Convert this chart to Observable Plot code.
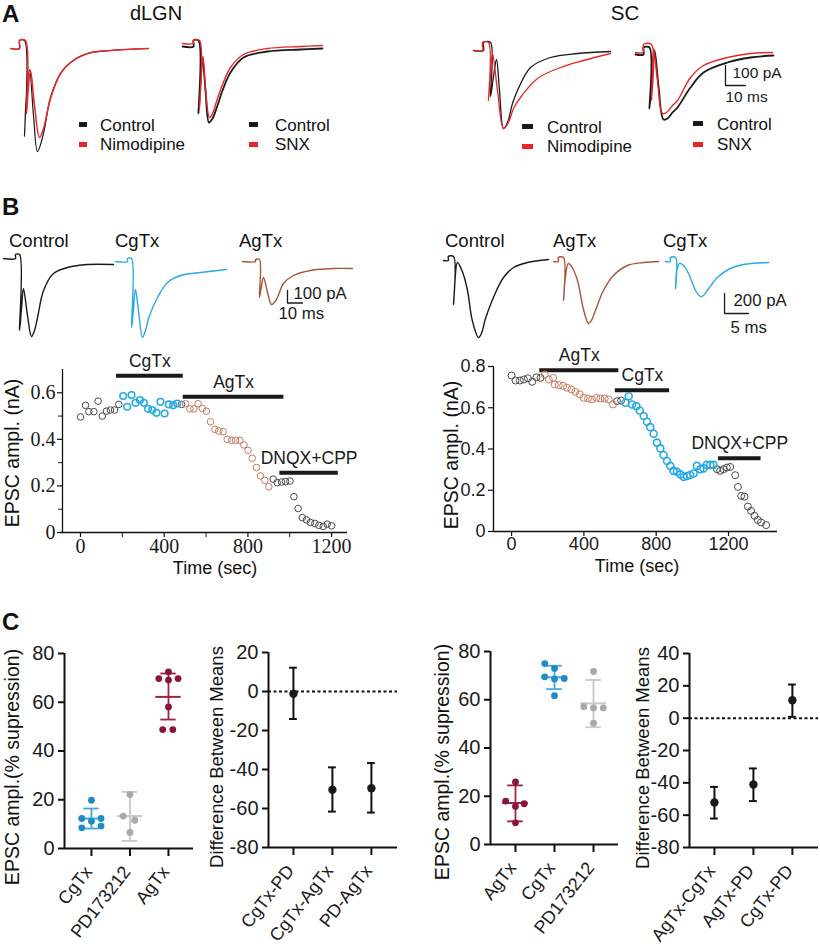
<!DOCTYPE html>
<html><head><meta charset="utf-8">
<script src="https://cdn.jsdelivr.net/npm/d3@7"></script>
<script src="https://cdn.jsdelivr.net/npm/@observablehq/plot@0.6"></script>
<style>
body{margin:0;background:#fff;}
#fig{position:relative;width:820px;height:950px;overflow:hidden;font-family:"Liberation Sans",Arial,sans-serif;color:#111;}
#fig svg{position:absolute;overflow:visible;}
.t{position:absolute;white-space:nowrap;line-height:1;}
.sw{position:absolute;}
</style></head><body><div id="fig"></div><script>
// ===================== DATA =====================
// Panel A traces: [time (ms), current (pA)]
const A_lgnNimo_control = [[0,0],[4.5,0],[4.5,40],[7,40],[7,-440],[7.75,-260],[9.5,-105],[11.5,-335],[13.5,-515],[16.5,-425],[20,-245],[25,-125],[30,-70],[38.5,-25],[50,-10],[69,0]];
const A_lgnNimo_drug    = [[0,0],[4.5,0],[4.5,40],[7.5,40],[8,-325],[8.75,-220],[10,-110],[12,-285],[14.5,-445],[16.5,-400],[20,-250],[25,-125],[30,-70],[38.5,-25],[50,-10],[69,0]];
const A_lgnSnx_control  = [[0,0],[5.5,0],[5.5,30],[8,30],[8,-335],[9,-180],[10,-55],[11.5,-220],[13.25,-380],[15,-360],[17.5,-295],[20,-220],[24,-130],[30.5,-55],[42.5,-25],[59,-15],[70,-10]];
const A_lgnSnx_drug     = [[0,15],[5.5,15],[5.5,30],[8.5,30],[8.5,-310],[9.3,-160],[10.25,-50],[11.5,-210],[13.5,-355],[15,-335],[17.5,-260],[20,-190],[24,-105],[30.5,-40],[42.5,-10],[59,0],[70,5]];
const A_scNimo_control  = [[0,0],[5,0],[5,40],[8.5,40],[8.5,-230],[10,-130],[11.5,-45],[13,-200],[15,-390],[17,-360],[19.5,-265],[22,-200],[28.5,-85],[38.5,-35],[52,-15],[68.5,-5]];
const A_scNimo_drug     = [[0,0],[4.5,0],[4.5,40],[7.5,40],[7.5,-250],[8.5,-120],[9.5,-15],[12,-200],[15,-390],[17.5,-360],[20,-290],[23.5,-235],[32,-140],[43.5,-85],[55,-50],[68.5,-15]];
const A_scSnx_control   = [[0,0],[4,0],[4,35],[7,35],[7,-270],[8,-130],[9.5,20],[11.5,-155],[14,-325],[16,-320],[18.5,-290],[21,-265],[27.5,-165],[34,-90],[46,-40],[57.5,-15],[69,-5]];
const A_scSnx_drug      = [[0,10],[4,10],[4,50],[8,50],[8,-230],[8.5,-100],[9,30],[11,-130],[13.5,-295],[15.5,-290],[18.5,-255],[21,-230],[27.5,-115],[34,-55],[46,-15],[57.5,5],[68.5,10]];
const A_scale = {t:45, i:-155, ms:10, pA:100};

// Panel B traces: [time (ms), current (pA)]
const B_lgn_control = [[0,0],[8,0],[8,32],[10.7,32],[10.7,-576],[12,-400],[13.3,-240],[16,-456],[18.7,-624],[20.7,-576],[22.7,-472],[26.7,-256],[33.3,-120],[42.7,-72],[56,-48],[73.3,-48]];
const B_lgn_cgtx    = [[0,0],[8,0],[8,24],[10.7,24],[10.7,-528],[12,-380],[13.3,-224],[15.7,-432],[18,-608],[20,-552],[22,-456],[28,-288],[34.7,-168],[43.3,-112],[56.7,-88],[74,-64]];
const B_lgn_agtx    = [[0,0],[8.7,0],[8.7,16],[11.3,16],[11.3,-288],[12.6,-200],[14,-128],[16.7,-248],[19.3,-344],[21.3,-328],[23.3,-288],[27.3,-176],[34,-112],[45.3,-72],[60.7,-56],[73.3,-56]];
const B_lgn_scale = {t:30, i:-332, ms:10, pA:100};
const B_sc_control  = [[0,0],[1,0],[1,40],[2.1,40],[2.1,-440],[2.4,-200],[2.9,-20],[4,-120],[5,-300],[6,-600],[7.3,-770],[7.9,-730],[8.75,-580],[10.4,-370],[12.5,-170],[14.6,-70],[17.5,-20],[21.9,10]];
const B_sc_agtx     = [[0,0],[1,0],[1,40],[2.1,40],[2.1,-390],[2.4,-190],[3.1,-20],[4,-70],[5,-190],[6.3,-490],[7.3,-620],[7.9,-590],[8.75,-490],[10.4,-290],[12.5,-140],[15.4,-40],[18.75,-10],[21.9,0]];
const B_sc_cgtx     = [[0,0],[1,0],[1,40],[2.1,40],[2.1,-270],[2.3,-110],[2.9,-20],[3.75,-40],[4.8,-120],[6.25,-290],[7.3,-350],[7.9,-340],[9,-270],[10.8,-160],[13.5,-70],[16.25,-30],[21.5,-10]];
const B_sc_scale = {t:12.3, i:-520, ms:5, pA:200};

// Panel B time courses: [time (s), EPSC amplitude (nA)]
const tcL_control = [[0,0.496],[24,0.546],[40,0.519],[64,0.519],[84,0.564],[104,0.5],[124,0.521],[143,0.526],[163,0.526],[183,0.55],[483,0.55],[921,0.229],[940,0.214],[961,0.217],[980,0.219],[1001,0.221],[1020,0.154],[1040,0.103],[1060,0.064],[1080,0.054],[1099,0.043],[1120,0.039],[1139,0.031],[1160,0.026],[1179,0.036],[1200,0.029]];
const tcL_cgtx = [[204,0.586],[223,0.54],[244,0.59],[263,0.557],[284,0.569],[303,0.557],[323,0.531],[343,0.526],[363,0.514],[382,0.561],[402,0.511],[422,0.55],[443,0.546],[462,0.554]];
const tcL_agtx = [[502,0.553],[523,0.531],[542,0.531],[562,0.553],[582,0.533],[602,0.521],[621,0.476],[642,0.443],[661,0.436],[682,0.433],[701,0.4],[722,0.396],[741,0.396],[762,0.396],[781,0.376],[801,0.353],[821,0.319],[841,0.279],[860,0.243],[881,0.224],[900,0.196]];
const tcL_bars = [{name:"CgTx",start:172,end:491,level:0.673},{name:"AgTx",start:491,end:972,level:0.583},{name:"DNQX+CPP",start:953,end:1232,level:0.257}];
const tcL_xticks = [0,400,800,1200], tcL_xminor = [200,600,1000];
const tcL_yticks = [0,0.2,0.4,0.6], tcL_yminor = [0.1,0.3,0.5];
const tcR_control = [[0,0.756],[22,0.732],[46,0.732],[68,0.737],[90,0.743],[114,0.726],[138,0.748],[160,0.745],[583,0.632],[606,0.635],[1136,0.302],[1154,0.294],[1172,0.302],[1191,0.31],[1209,0.313],[1237,0.273],[1252,0.216],[1270,0.173],[1288,0.169],[1307,0.121],[1325,0.1],[1344,0.076],[1362,0.056],[1380,0.044],[1408,0.031]];
const tcR_agtx = [[184,0.761],[206,0.737],[230,0.745],[239,0.713],[261,0.71],[285,0.706],[307,0.697],[331,0.689],[353,0.677],[377,0.665],[399,0.648],[423,0.645],[445,0.64],[469,0.648],[491,0.645],[515,0.645],[537,0.64],[561,0.616]];
const tcR_cgtx = [[630,0.624],[648,0.656],[666,0.616],[690,0.608],[709,0.587],[731,0.56],[749,0.532],[767,0.506],[786,0.474],[804,0.431],[823,0.403],[841,0.371],[860,0.342],[878,0.318],[896,0.294],[915,0.29],[933,0.277],[952,0.265],[970,0.269],[988,0.274],[1007,0.281],[1025,0.318],[1044,0.302],[1062,0.306],[1080,0.323],[1099,0.323],[1117,0.323]];
const tcR_bars = [{name:"AgTx",start:156,end:593,level:0.782},{name:"CgTx",start:574,end:874,level:0.685},{name:"DNQX+CPP",start:1145,end:1380,level:0.355}];
const tcR_xticks = [0,400,800,1200], tcR_yticks = [0,0.2,0.4,0.6,0.8];

// Panel C: % suppression per cell, mean and SD limits
const c1Cats = ["CgTx","PD173212","AgTx"];
const c1Vals = [[19.8,12.3,12.3,11.2,8.5,9.2],[22.2,13.3,11.6,6.6],[72.5,69.7,69.1,69.7,58.1,48.8,48.8]];
const c1Jit  = [[0,-1,1,0,-1,1],[0,-0.7,0.5,0],[0,-1,0,1,0,-0.6,0.45]];
const c1Mean = [12.3,13.3,62.2], c1Lo = [8.2,3.1,52.9], c1Hi = [16.4,23.2,71.8];
const c2Cats = ["CgTx-PD","CgTx-AgTx","PD-AgTx"];
const c2Mean = [-1.2,-50.4,-49.6], c2Lo = [-14.1,-61.6,-62.1], c2Hi = [12.2,-38.9,-36.7];
const c3Cats = ["AgTx","CgTx","PD173212"];
const c3Vals = [[25.9,18.0,16.9,15.8,9.0],[75.0,73.0,69.5,68.6,68.8,61.7],[71.7,57.1,56.6,56.6,50.3]];
const c3Jit  = [[0,-1,0.9,0,0],[-1,0,-1,0,1,0],[0,-1,0,1,0]];
const c3Mean = [17.2,69.3,58.5], c3Lo = [9.6,64.4,48.6], c3Hi = [24.5,74.1,68.2];
const c4Cats = ["AgTx-CgTx","AgTx-PD","CgTx-PD"];
const c4Mean = [-52.2,-41.0,11.1], c4Lo = [-62.1,-51.3,0.8], c4Hi = [-42.5,-31.1,20.8];
const cPctTicks = [0,20,40,60,80], c2Ticks = [20,0,-20,-40,-60,-80], c4Ticks = [40,20,0,-20,-40,-60,-80];

// colours
const RED = "#e8262a", BLK = "#1a1a1a", CYAN = "#27aae1", BROWN = "#a6553a";
const DOT = {CgTx:"#1f8cc8", PD173212:"#a9a9a9", AgTx:"#8a1538"};
const BAR = {CgTx:"#45a8dc", PD173212:"#c8c8c8", AgTx:"#a2223f"};
const SANS = "Liberation Sans, Arial, sans-serif", SERIF = "Liberation Serif, Times New Roman, serif";

// ===================== HELPERS =====================
const fig = document.getElementById("fig");
function place(node, left, top){ node.style.left = left+"px"; node.style.top = top+"px"; fig.appendChild(node); }
function label(text, x, y, o = {}) {
  const d = document.createElement("div"); d.className = "t"; d.textContent = text;
  d.style.left = x+"px"; d.style.top = y+"px"; d.style.fontSize = (o.size||17)+"px";
  if (o.bold) d.style.fontWeight = "bold";
  if (o.font) d.style.fontFamily = o.font;
  let tf = `translate(${o.center ? "-50%" : "0"},-50%)`;
  if (o.rotate) tf += ` rotate(${o.rotate}deg)`;
  d.style.transform = tf; fig.appendChild(d);
}
function swatch(x, y, w, h, color) {
  const d = document.createElement("div"); d.className = "sw";
  Object.assign(d.style, {left:x+"px", top:y+"px", width:w+"px", height:h+"px", background:color});
  fig.appendChild(d);
}
function scaleBar(sb, o) {
  return [
    Plot.line([[sb.t, sb.i+sb.pA],[sb.t, sb.i],[sb.t+sb.ms, sb.i]], {x:d=>d[0], y:d=>d[1], stroke:BLK, strokeWidth:1.3}),
    Plot.text([sb], {x:d=>d.t, y:d=>d.i+d.pA/2, text:d=>d.pA+" pA", textAnchor:"start", dx:o.vdx, dy:o.vdy, fontSize:o.fs, fill:BLK}),
    Plot.text([sb], {x:d=>d.t, y:d=>d.i, text:d=>d.ms+" ms", textAnchor:"start", dx:o.hdx, dy:o.hdy, fontSize:o.fs, fill:BLK})
  ];
}
function tracePlot(series, g, extra = []) {
  const {left, top, width, height, x0, y0, sx, sy} = g;
  const marks = series.map(s => Plot.line(s.data, {x:d=>d[0], y:d=>d[1], stroke:s.color, strokeWidth:s.w||1.4, curve:"catmull-rom"}));
  const svg = Plot.plot({
    width, height, margin:0,
    x:{domain:[(left-x0)/sx, (left+width-x0)/sx], axis:null},
    y:{domain:[(y0-top-height)/sy, (y0-top)/sy], axis:null},
    style:{background:"transparent", overflow:"visible", fontFamily:SANS},
    marks:[...marks, ...extra]
  });
  place(svg, left, top);
}
// tick labels drawn as text marks (full control of font)
function xLabels(ticks, y0, o) {
  return Plot.text(ticks, {x:d=>d, y:()=>y0, text:o.fmt||(d=>String(d)), dy:o.dy, lineAnchor:"top", fontSize:o.fs, fontFamily:o.ff||SANS, fill:BLK});
}
function yLabels(ticks, x0, o) {
  return Plot.text(ticks, {x:()=>x0, y:d=>d, text:o.fmt||(d=>String(d)), dx:o.dx, textAnchor:"end", fontSize:o.fs, fontFamily:o.ff||SANS, fill:BLK});
}
const noLab = () => "";

// ===================== PANEL A =====================
label("A", 2, 14, {size:24, bold:true});
label("dLGN", 156, 13, {size:20, center:true});
label("SC", 625, 13, {size:20.5, center:true});
const gA = {sx:2, sy:0.2};
tracePlot([{data:A_lgnNimo_control,color:BLK,w:1.2},{data:A_lgnNimo_drug,color:RED,w:1.5}], {...gA, left:5, top:30, width:150, height:130, x0:10, y0:48});
tracePlot([{data:A_lgnSnx_control,color:BLK,w:1.8},{data:A_lgnSnx_drug,color:RED,w:1.4}], {...gA, left:175, top:30, width:155, height:100, x0:182, y0:46});
tracePlot([{data:A_scNimo_control,color:BLK,w:1.3},{data:A_scNimo_drug,color:RED,w:1.3}], {...gA, left:465, top:30, width:155, height:110, x0:473, y0:50});
tracePlot([{data:A_scSnx_control,color:BLK,w:1.8},{data:A_scSnx_drug,color:RED,w:1.4}], {...gA, left:628, top:30, width:185, height:85, x0:635, y0:54},
  scaleBar(A_scale, {vdx:7, vdy:-2, hdx:0, hdy:12, fs:15.5}));
// legends
[[79,100,"Nimodipine",125,144,8],[249,275,"SNX",125,144,9],[522,547,"Nimodipine",127,146,11],[693,717,"SNX",124,144,10]].forEach(([sx,tx,name,c1,c2,w]) => {
  swatch(sx, c1-3, w, 5, BLK); label("Control", tx, c1, {size:17});
  swatch(sx, c2-2, w, 5, RED); label(name, tx, c2, {size:17});
});

// ===================== PANEL B traces =====================
label("B", 2, 207, {size:24, bold:true});
[["Control",9],["CgTx",115],["AgTx",239],["Control",445],["AgTx",553],["CgTx",663]].forEach(([n,x]) => label(n, x, 241, {size:18.5}));
const gBL = {sx:1.5, sy:0.125};
tracePlot([{data:B_lgn_control,color:BLK}], {...gBL, left:0, top:245, width:115, height:100, x0:3, y0:258});
tracePlot([{data:B_lgn_cgtx,color:CYAN}], {...gBL, left:110, top:245, width:120, height:100, x0:115, y0:261});
tracePlot([{data:B_lgn_agtx,color:BROWN}], {...gBL, left:238, top:245, width:150, height:85, x0:242, y0:261},
  scaleBar(B_lgn_scale, {vdx:6, vdy:-3, hdx:-9, hdy:10.5, fs:16.8}));
const gBR = {sx:4.8, sy:0.1};
tracePlot([{data:B_sc_control,color:BLK}], {...gBR, left:438, top:245, width:115, height:100, x0:443, y0:260});
tracePlot([{data:B_sc_agtx,color:BROWN}], {...gBR, left:548, top:245, width:115, height:100, x0:553, y0:261});
tracePlot([{data:B_sc_cgtx,color:CYAN}], {...gBR, left:660, top:245, width:150, height:95, x0:665, y0:261},
  scaleBar(B_sc_scale, {vdx:9, vdy:-3, hdx:6, hdy:14, fs:16.8}));

// ===================== PANEL B time courses =====================
function dots(data, color, sw, r) {
  return Plot.dot(data, {x:d=>d[0], y:d=>d[1], r, stroke:color, strokeWidth:sw, fill:"none"});
}
function drugBars(bars, fs) {
  return [
    Plot.ruleY(bars, {x1:"start", x2:"end", y:"level", stroke:BLK, strokeWidth:4}),
    Plot.text(bars, {x:d=>(d.start+d.end)/2, y:"level", text:"name", dy:-14.5, fontSize:fs, fontFamily:SANS, fill:BLK})
  ];
}
const dec1 = d => d===0 ? "0" : d.toFixed(1);
{
  const xd = [-86, 1276], yd = [0, 0.70];
  const svg = Plot.plot({
    width:410, height:250, marginLeft:62, marginRight:63, marginTop:29, marginBottom:58,
    x:{domain:xd}, y:{domain:yd},
    style:{background:"transparent", overflow:"visible", fontFamily:SANS},
    marks:[
      Plot.ruleX([xd[0]], {y1:0, y2:yd[1], strokeWidth:1.3}),
      Plot.ruleY([0], {x1:-96, x2:xd[1], strokeWidth:1.3}),
      Plot.axisY({ticks:tcL_yticks, tickSize:5, strokeWidth:1.2, tickFormat:noLab, label:null}),
      Plot.axisY({ticks:tcL_yminor, tickSize:4, strokeWidth:1, tickFormat:noLab, label:null}),
      Plot.axisX({ticks:tcL_xticks, tickSize:5, strokeWidth:1.2, tickFormat:noLab, label:null}),
      Plot.axisX({ticks:tcL_xminor, tickSize:5, strokeWidth:1, tickFormat:noLab, label:null}),
      yLabels(tcL_yticks, xd[0], {dx:-7, fs:20, ff:SERIF, fmt:dec1}),
      xLabels(tcL_xticks, 0, {dy:6, fs:20, ff:SERIF}),
      ...drugBars(tcL_bars, 17.5),
      dots(tcL_control, "#4a4a4a", 1, 3.3),
      dots(tcL_cgtx, CYAN, 1.6, 3.3),
      dots(tcL_agtx, "#c47b60", 1, 3.3)
    ]
  });
  place(svg, 0, 340);
  label("Time (sec)", 215, 568, {size:18, center:true});
  label("EPSC ampl. (nA)", 13, 453, {size:19.5, center:true, rotate:-90});
}
{
  const xd = [-100, 1471], yd = [0, 0.8];
  const svg = Plot.plot({
    width:410, height:250, marginLeft:83, marginRight:43, marginTop:26, marginBottom:59,
    x:{domain:xd}, y:{domain:yd},
    style:{background:"transparent", overflow:"visible", fontFamily:SANS},
    marks:[
      Plot.ruleX([xd[0]], {y1:0, y2:yd[1], strokeWidth:1.4}),
      Plot.ruleY([0], {x1:xd[0], x2:xd[1], strokeWidth:1.4}),
      Plot.axisY({ticks:tcR_yticks, tickSize:5, strokeWidth:1.2, tickFormat:noLab, label:null}),
      Plot.axisX({ticks:tcR_xticks, tickSize:5, strokeWidth:1.2, tickFormat:noLab, label:null}),
      yLabels(tcR_yticks, xd[0], {dx:-8, fs:18, fmt:dec1}),
      xLabels(tcR_xticks, 0, {dy:6, fs:18}),
      ...drugBars(tcR_bars, 17.5),
      dots(tcR_control, "#4a4a4a", 1, 3.5),
      dots(tcR_agtx, "#c47b60", 1, 3.5),
      dots(tcR_cgtx, CYAN, 1.6, 3.5)
    ]
  });
  place(svg, 410, 340);
  label("Time (sec)", 637, 566, {size:18, center:true});
  label("EPSC ampl. (nA)", 452, 455, {size:19.5, center:true, rotate:-90});
}

// ===================== PANEL C =====================
label("C", 2, 622, {size:24, bold:true});
function catFrame(cats, xd, yd, yticks) {
  const idx = cats.map((c,i) => i);
  return [
    Plot.ruleX([xd[0]], {y1:yd[0], y2:yd[1], strokeWidth:2}),
    Plot.ruleY([yd[0]], {x1:xd[0], x2:xd[1], strokeWidth:2}),
    Plot.axisY({ticks:yticks, tickSize:6, strokeWidth:2, tickFormat:noLab, label:null}),
    Plot.axisX({ticks:idx, tickSize:8, strokeWidth:2, tickFormat:noLab, label:null}),
    yLabels(yticks, xd[0], {dx:-10, fs:20}),
    Plot.text(idx, {x:d=>d, y:()=>yd[0], text:d=>cats[d], rotate:-52, textAnchor:"end", lineAnchor:"middle", dx:-3, dy:20, fontSize:18, fontFamily:SANS, fill:BLK})
  ];
}
function scatterPanel(cats, vals, jit, mean, lo, hi, g) {
  const marks = catFrame(cats, g.xd, [0,80], cPctTicks);
  cats.forEach((c, i) => {
    const s = [{i, m:mean[i], lo:lo[i], hi:hi[i]}];
    marks.push(
      Plot.ruleX(s, {x:"i", y1:"lo", y2:"hi", stroke:BAR[c], strokeWidth:1.8}),
      Plot.ruleY(s, {y:"lo", x1:d=>d.i-0.2, x2:d=>d.i+0.2, stroke:BAR[c], strokeWidth:1.8}),
      Plot.ruleY(s, {y:"hi", x1:d=>d.i-0.2, x2:d=>d.i+0.2, stroke:BAR[c], strokeWidth:1.8}),
      Plot.ruleY(s, {y:"m", x1:d=>d.i-0.33, x2:d=>d.i+0.33, stroke:BAR[c], strokeWidth:2}),
      Plot.dot(vals[i].map((v,j) => ({x:i + jit[i][j]*0.25, y:v})), {x:"x", y:"y", r:3.4, fill:DOT[c], stroke:"none"})
    );
  });
  const svg = Plot.plot({width:g.w, height:350, marginLeft:g.mL, marginRight:g.mR, marginTop:g.mT, marginBottom:g.mB,
    x:{domain:g.xd}, y:{domain:[0,80]}, style:{background:"transparent", overflow:"visible", fontFamily:SANS}, marks});
  place(svg, g.left, 600);
}
function diffPanel(cats, mean, lo, hi, g) {
  const data = cats.map((c,i) => ({i, m:mean[i], lo:lo[i], hi:hi[i]}));
  const marks = [
    Plot.ruleY([0], {x1:g.xd[0], x2:g.xd[1], strokeWidth:2, strokeDasharray:"3,2.5"}),
    ...catFrame(cats, g.xd, g.yd, g.yticks),
    Plot.ruleX(data, {x:"i", y1:"lo", y2:"hi", strokeWidth:2}),
    Plot.ruleY(data, {y:"lo", x1:d=>d.i-0.1, x2:d=>d.i+0.1, strokeWidth:2}),
    Plot.ruleY(data, {y:"hi", x1:d=>d.i-0.1, x2:d=>d.i+0.1, strokeWidth:2}),
    Plot.dot(data, {x:"i", y:"m", r:4.2, fill:BLK})
  ];
  const svg = Plot.plot({width:g.w, height:350, marginLeft:g.mL, marginRight:g.mR, marginTop:g.mT, marginBottom:g.mB,
    x:{domain:g.xd}, y:{domain:g.yd}, style:{background:"transparent", overflow:"visible", fontFamily:SANS}, marks});
  place(svg, g.left, 600);
}
scatterPanel(c1Cats, c1Vals, c1Jit, c1Mean, c1Lo, c1Hi, {left:0, w:205, mL:64, mR:12, mT:53, mB:102, xd:[-0.70, 2.65]});
diffPanel(c2Cats, c2Mean, c2Lo, c2Hi, {left:200, w:205, mL:68, mR:8, mT:52, mB:103, xd:[-0.64, 2.67], yd:[-80,20], yticks:c2Ticks});
scatterPanel(c3Cats, c3Vals, c3Jit, c3Mean, c3Lo, c3Hi, {left:410, w:210, mL:80, mR:2, mT:51, mB:106, xd:[-0.64, 2.64]});
diffPanel(c4Cats, c4Mean, c4Lo, c4Hi, {left:610, w:210, mL:79, mR:2, mT:53, mB:103, xd:[-0.64, 2.67], yd:[-80,40], yticks:c4Ticks});
label("EPSC ampl.(% supression)", 13, 767, {size:19.5, center:true, rotate:-90});
label("Difference Between Means", 217, 757, {size:18.5, center:true, rotate:-90});
label("EPSC ampl.(% supression)", 443, 762, {size:19.5, center:true, rotate:-90});
label("Difference Between Means", 643, 758, {size:18.5, center:true, rotate:-90});
</script></body></html>
